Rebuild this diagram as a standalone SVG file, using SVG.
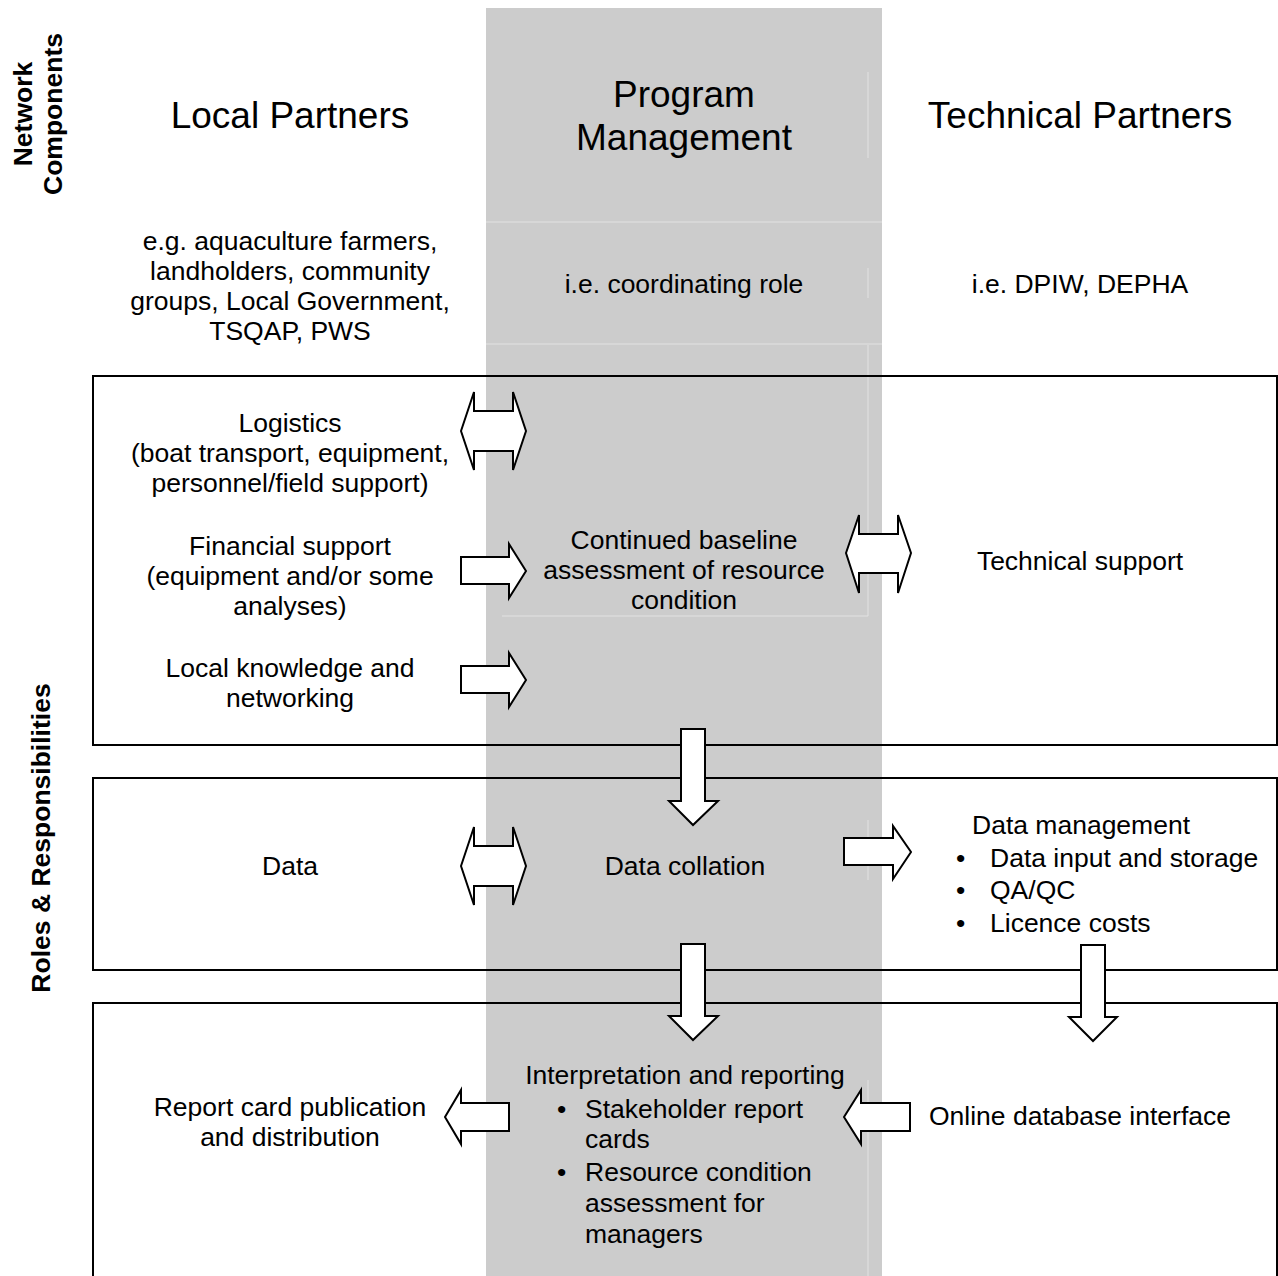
<svg xmlns="http://www.w3.org/2000/svg" width="1278" height="1276" viewBox="0 0 1278 1276">
<style>
text{font-family:"Liberation Sans",Arial,sans-serif;fill:#000}
.b{font-size:26.5px}
.h{font-size:37px}
.t{font-size:26.5px;font-weight:bold}
.m{text-anchor:middle}
.box{fill:none;stroke:#000;stroke-width:2}
.ar{fill:#fff;stroke:#000;stroke-width:2;stroke-linejoin:miter}
.fl{stroke:#e2e2e2;stroke-width:1;fill:none}
</style>
<rect width="1278" height="1276" fill="#fff"/>
<g id="program-column">
<rect x="486" y="8" width="396" height="1268" fill="#cccccc"/>
<path class="fl" d="M486 222H882M486 344H882M502 616H868M868 72V158M868 268V298M868 345V616M868 820V880M868 1080V1276"/>
</g>
<g id="frames">
<rect class="box" x="93" y="376" width="1184" height="369"/>
<rect class="box" x="93" y="778" width="1184" height="192"/>
<path class="box" d="M93 1276V1003H1277V1276"/>
</g>
<g id="side-labels">
<text class="t m" transform="translate(32 114) rotate(-90)">Network</text>
<text class="t m" transform="translate(62 114) rotate(-90)">Components</text>
<text class="t m" transform="translate(50 838) rotate(-90)">Roles &amp; Responsibilities</text>
</g>
<g id="headers">
<text class="h m" x="290" y="128">Local Partners</text>
<text class="h m" x="684" y="107">Program</text>
<text class="h m" x="684" y="150">Management</text>
<text class="h m" x="1080" y="128">Technical Partners</text>
</g>
<g id="components">
<text class="b m" x="290" y="250">e.g. aquaculture farmers,</text>
<text class="b m" x="290" y="280">landholders, community</text>
<text class="b m" x="290" y="310">groups, Local Government,</text>
<text class="b m" x="290" y="340">TSQAP, PWS</text>
<text class="b m" x="684" y="293">i.e. coordinating role</text>
<text class="b m" x="1080" y="293">i.e. DPIW, DEPHA</text>
</g>
<g id="logistics"><text class="b m" x="290" y="432">Logistics</text><text class="b m" x="290" y="462">(boat transport, equipment,</text><text class="b m" x="290" y="492">personnel/field support)</text></g>
<g id="financial"><text class="b m" x="290" y="555">Financial support</text><text class="b m" x="290" y="585">(equipment and/or some</text><text class="b m" x="290" y="615">analyses)</text></g>
<g id="local-knowledge"><text class="b m" x="290" y="677">Local knowledge and</text><text class="b m" x="290" y="707">networking</text></g>
<g id="baseline"><text class="b m" x="684" y="549">Continued baseline</text><text class="b m" x="684" y="579">assessment of resource</text><text class="b m" x="684" y="609">condition</text></g>
<g id="technical-support"><text class="b m" x="1080" y="570">Technical support</text></g>
<g id="data"><text class="b m" x="290" y="875">Data</text></g>
<g id="data-collation"><text class="b m" x="685" y="875">Data collation</text></g>
<g id="data-management">
<text class="b" x="972" y="834">Data management</text>
<text class="b" x="956" y="867">•</text><text class="b" x="990" y="867">Data input and storage</text>
<text class="b" x="956" y="899">•</text><text class="b" x="990" y="899">QA/QC</text>
<text class="b" x="956" y="932">•</text><text class="b" x="990" y="932">Licence costs</text>
</g>
<g id="interpretation">
<text class="b m" x="685" y="1084">Interpretation and reporting</text>
<text class="b" x="557" y="1118">•</text><text class="b" x="585" y="1118">Stakeholder report</text>
<text class="b" x="585" y="1148">cards</text>
<text class="b" x="557" y="1181">•</text><text class="b" x="585" y="1181">Resource condition</text>
<text class="b" x="585" y="1212">assessment for</text>
<text class="b" x="585" y="1243">managers</text>
</g>
<g id="report-card"><text class="b m" x="290" y="1116">Report card publication</text><text class="b m" x="290" y="1146">and distribution</text></g>
<g id="online-database"><text class="b m" x="1080" y="1125">Online database interface</text></g>
<g id="connectors">
<path class="ar" d="M461 431L474 392V411H513V392L526 431L513 470V451H474V470Z"/>
<path class="ar" d="M461 557H509V544L526 571L509 598V584H461Z"/>
<path class="ar" d="M461 666H509V653L526 680L509 707V693H461Z"/>
<path class="ar" d="M846 553L859 515V534H898V515L911 553L898 593V573H859V593Z"/>
<path class="ar" d="M681 729H705V801H718L693 825L669 801H681Z"/>
<path class="ar" d="M461 866L474 827V846H513V827L526 866L513 905V886H474V905Z"/>
<path class="ar" d="M844 838H893V826L911 852L893 879V865H844Z"/>
<path class="ar" d="M681 944H705V1016H718L693 1040L669 1016H681Z"/>
<path class="ar" d="M1081 945H1105V1017H1117L1093 1041L1069 1017H1081Z"/>
<path class="ar" d="M844 1117L861 1090V1103H910V1131H861V1144Z"/>
<path class="ar" d="M445 1117L461 1090V1103H509V1131H461V1144Z"/>
</g>
</svg>
